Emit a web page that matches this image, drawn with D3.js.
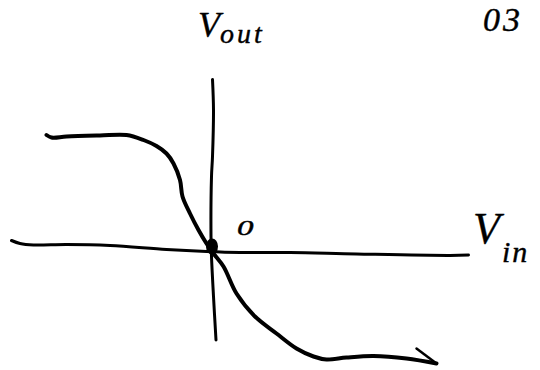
<!DOCTYPE html>
<html>
<head>
<meta charset="utf-8">
<script src="https://cdn.jsdelivr.net/npm/d3@7"></script>
<style>
  html, body { margin: 0; padding: 0; background: #fff; }
  svg { display: block; }
  .lbl { font-family: "Liberation Serif", "DejaVu Serif", serif; font-style: italic; fill: #000; stroke: #000; stroke-width: 0.4; stroke-linejoin: round; }
</style>
</head>
<body>
<svg id="chart" width="540" height="370"></svg>
<script>
// Transfer characteristic sketch: Vout against Vin, inverting through the origin.
const vin  = [-3.31, -3.21, -2.91, -2.24, -1.71, -1.37, -1.11, -0.91, -0.77, -0.64, -0.59, -0.44, -0.27, -0.11, 0.03, 0.23, 0.49, 0.86, 1.29, 1.69, 2.03, 2.29, 2.69, 3.23, 3.89, 4.49];
const vout = [2.26, 2.21, 2.23, 2.25, 2.26, 2.16, 2.04, 1.89, 1.69, 1.36, 1.03, 0.69, 0.36, 0.09, -0.11, -0.37, -0.91, -1.37, -1.71, -2.01, -2.17, -2.23, -2.19, -2.16, -2.21, -2.31];
// little hook flicked back at the end of the curve
const tailVin  = [4.49, 4.09];
const tailVout = [-2.31, -2.01];

// hand-drawn axes (slightly wavy)
const xAxisVin  = [-4.01, -3.84, -3.57, -2.91, -2.04, -0.91, -0.11, 0.56, 1.56, 2.89, 4.76, 5.13];
const xAxisVout = [0.15, 0.09, 0.06, 0.07, 0.05, -0.03, -0.07, -0.09, -0.09, -0.12, -0.15, -0.14];
const yAxisVin  = [0.01, 0.03, 0.01, -0.01, -0.02, -0.01, 0.03, 0.08];
const yAxisVout = [3.37, 2.76, 1.83, 1.43, 0.23, -0.17, -0.97, -1.84];

const origin = { vin: 0, vout: 0.03 };
const labels = { y: "V", ySub: "out", x: "V", xSub: "in", origin: "0", page: "03" };

const svg = d3.select("#chart");
const x = d3.scaleLinear().domain([-4, 5]).range([12, 462]);
const y = d3.scaleLinear().domain([-2.2, 5]).range([358, -2]);

const line = d3.line()
  .x(d => x(d[0]))
  .y(d => y(d[1]))
  .curve(d3.curveCatmullRom.alpha(0.5));

const zip = (a, b) => a.map((v, i) => [v, b[i]]);

// axes
svg.append("path")
  .attr("d", line(zip(xAxisVin, xAxisVout)))
  .attr("fill", "none").attr("stroke", "#000")
  .attr("stroke-width", 3).attr("stroke-linecap", "round");
svg.append("path")
  .attr("d", line(zip(yAxisVin, yAxisVout)))
  .attr("fill", "none").attr("stroke", "#000")
  .attr("stroke-width", 3).attr("stroke-linecap", "round");

// transfer curve
svg.append("path")
  .attr("d", line(zip(vin, vout)))
  .attr("fill", "none").attr("stroke", "#000")
  .attr("stroke-width", 4).attr("stroke-linecap", "round").attr("stroke-linejoin", "round");
svg.append("path")
  .attr("d", d3.line().x(d => x(d[0])).y(d => y(d[1]))(zip(tailVin, tailVout)))
  .attr("fill", "none").attr("stroke", "#000")
  .attr("stroke-width", 2.5).attr("stroke-linecap", "round");

// operating point at the origin
svg.append("ellipse")
  .attr("cx", x(origin.vin)).attr("cy", y(origin.vout))
  .attr("rx", 6).attr("ry", 8).attr("fill", "#000");

// axis labels
const yl = svg.append("text").attr("class", "lbl").attr("x", x(0) - 14).attr("y", 37);
yl.append("tspan").attr("font-size", 36).text(labels.y);
yl.append("tspan").attr("font-size", 28).attr("dy", 6).attr("letter-spacing", 3).text(labels.ySub);

svg.append("text").attr("class", "lbl")
  .attr("x", x(5.22)).attr("y", 243).attr("font-size", 44)
  .text(labels.x);
svg.append("text").attr("class", "lbl")
  .attr("x", x(5.8)).attr("y", 262).attr("font-size", 30).attr("letter-spacing", 2)
  .text(labels.xSub);

// origin marker label
svg.append("text").attr("class", "lbl")
  .attr("x", x(0.5)).attr("y", 235).attr("font-size", 22)
  .attr("transform", `translate(${x(0.5)},0) scale(1.5,1) translate(${-x(0.5)},0)`)
  .text(labels.origin);

// sheet number
svg.append("text").attr("class", "lbl")
  .attr("x", 483).attr("y", 31).attr("font-size", 34).attr("letter-spacing", 3)
  .text(labels.page);
</script>
</body>
</html>
